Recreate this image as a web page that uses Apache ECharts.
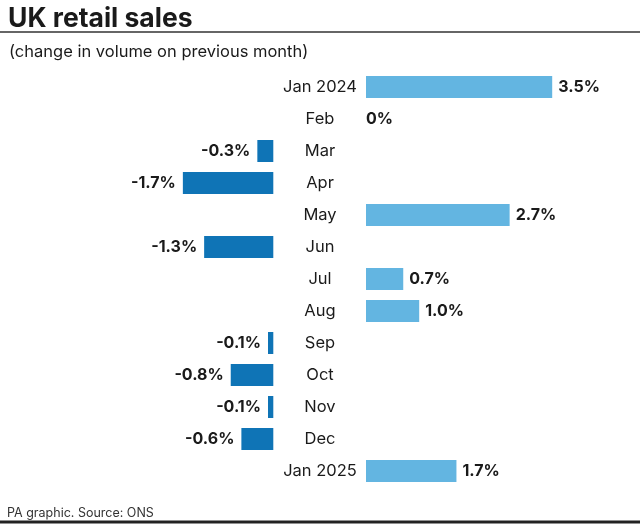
<!DOCTYPE html>
<html><head><meta charset="utf-8">
<script src="https://cdn.jsdelivr.net/npm/echarts@6/dist/echarts.min.js"></script>
<style>html,body{margin:0;padding:0;background:#fff}#c{width:640px;height:525px}</style>
</head><body><div id="c"></div>
<script>
const categories = ['Jan 2024','Feb','Mar','Apr','May','Jun','Jul','Aug','Sep','Oct','Nov','Dec','Jan 2025'];
const values = [3.5, 0, -0.3, -1.7, 2.7, -1.3, 0.7, 1.0, -0.1, -0.8, -0.1, -0.6, 1.7];
const titleText = 'UK retail sales';
const subtitleText = '(change in volume on previous month)';
const sourceText = 'PA graphic. Source: ONS';

const FONT = 'Inter';
const posData = values.map(v => v >= 0 ? (v === 0 ? {value: v, label: {distance: 0}} : v) : '-');
const negData = values.map(v => v < 0 ? v : '-');
const fmt = p => (p.value === 0 ? '0' : p.value.toFixed(1)) + '%';

const chart = echarts.init(document.getElementById('c'), null, {renderer: 'canvas'});
chart.setOption({
  animation: false,
  backgroundColor: '#fff',
  textStyle: {fontFamily: FONT},
  title: [
    {text: titleText, left: 3, top: 1, textStyle: {fontFamily: FONT, fontSize: 26.5, fontWeight: 'bold', color: '#1a1a1a'}},
    {text: subtitleText, left: 4, top: 39, textStyle: {fontFamily: FONT, fontSize: 16.5, fontWeight: 'normal', color: '#1a1a1a'}},
    {text: sourceText, left: 2, top: 502, textStyle: {fontFamily: FONT, fontSize: 12.5, fontWeight: 'normal', color: '#333'}}
  ],
  graphic: [
    {type: 'line', shape: {x1: 0, y1: 32, x2: 640, y2: 32}, style: {stroke: '#333', lineWidth: 1.5}},
    {type: 'line', shape: {x1: 0, y1: 522, x2: 640, y2: 522}, style: {stroke: '#222', lineWidth: 3}}
  ],
  grid: [
    {left: 166.9, width: 106.4, top: 71, height: 416},
    {left: 366, width: 212.8, top: 71, height: 416}
  ],
  xAxis: [
    {gridIndex: 0, type: 'value', min: -2, max: 0, show: false},
    {gridIndex: 1, type: 'value', min: 0, max: 4, show: false}
  ],
  yAxis: [
    {gridIndex: 0, type: 'category', data: categories, inverse: true, show: false},
    {gridIndex: 1, type: 'category', data: categories, inverse: true,
      axisLine: {show: false}, axisTick: {show: false}, splitLine: {show: false},
      axisLabel: {align: 'center', margin: 46, fontFamily: FONT, fontSize: 16.5, color: '#1a1a1a'}}
  ],
  series: [
    {type: 'bar', xAxisIndex: 0, yAxisIndex: 0, data: negData, barWidth: 22,
      itemStyle: {color: '#0f74b6'},
      label: {show: true, position: 'left', distance: 7, formatter: fmt, fontFamily: FONT, fontSize: 16, fontWeight: 'bold', color: '#1a1a1a'}},
    {type: 'bar', xAxisIndex: 1, yAxisIndex: 1, data: posData, barWidth: 22,
      itemStyle: {color: '#63b5e1'},
      label: {show: true, position: 'right', distance: 6, formatter: fmt, fontFamily: FONT, fontSize: 16, fontWeight: 'bold', color: '#1a1a1a'}}
  ]
});
</script></body></html>
